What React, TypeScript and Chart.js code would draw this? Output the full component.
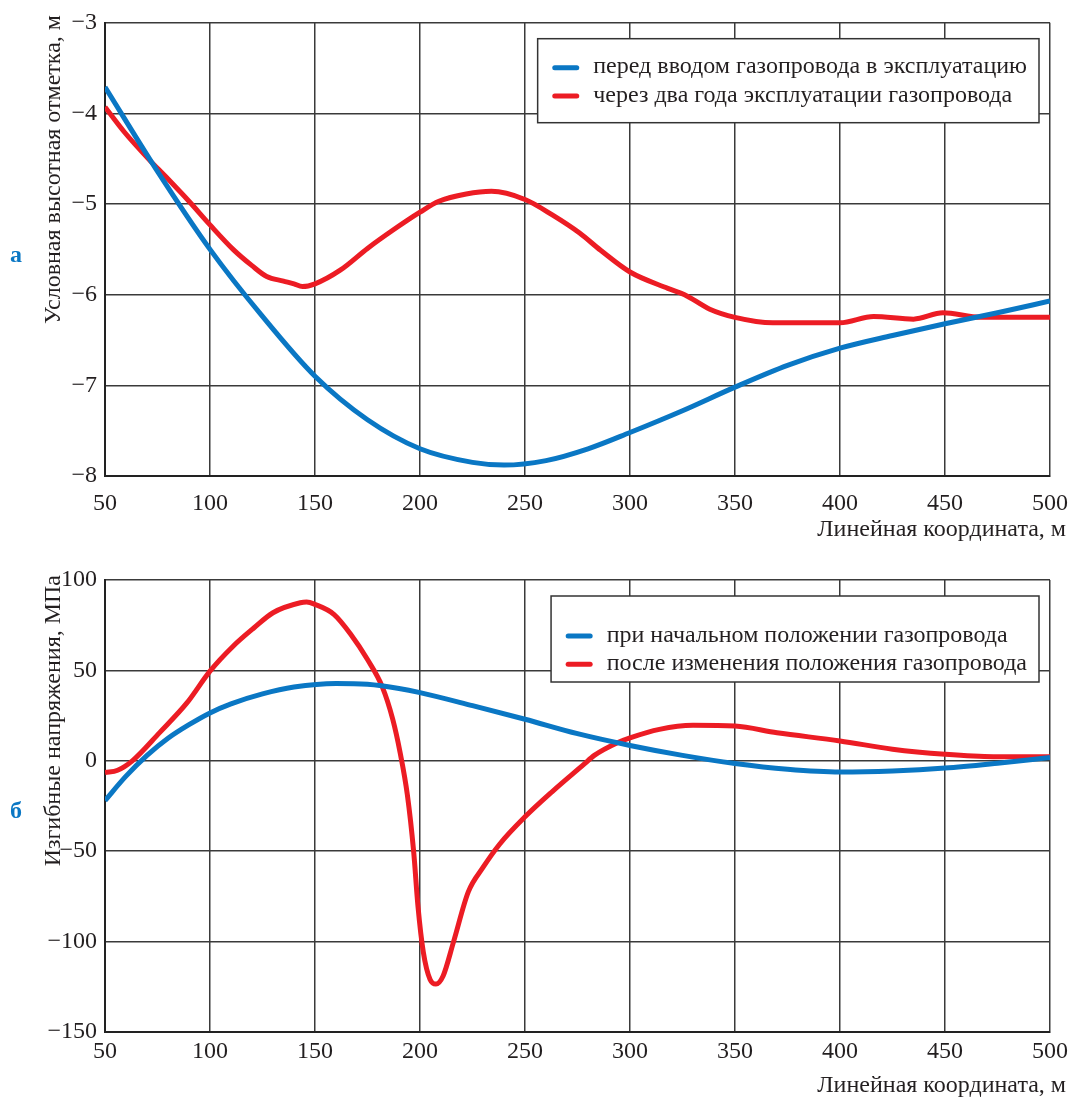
import React, { useEffect, useRef } from "react";
import { Chart, registerables } from "chart.js";

Chart.register(...registerables);

const FONT = '"Liberation Serif", "Times New Roman", serif';
const BLUE = "#0a77c4";
const RED = "#ec1c24";
const TEXT = "#231f20";

// ---------- shared ----------
const xTitle = "Линейная координата, м";
const xMin = 50;
const xMax = 500;
const xStep = 50;

// ---------- panel а ----------
const topLetter = "а";
const topYTitle = "Условная высотная отметка, м";
const topYMin = -8;
const topYMax = -3;
const topYStep = 1;
const topLabels = [
  "перед вводом газопровода в эксплуатацию",
  "через два года эксплуатации газопровода",
];
const topBeforeX = [50, 75, 100, 125, 150, 175, 200, 225, 240, 260, 280, 300, 325, 350, 375, 400, 425, 450, 475, 500];
const topBeforeY = [-3.71, -4.64, -5.5, -6.24, -6.9, -7.38, -7.7, -7.85, -7.88, -7.83, -7.7, -7.52, -7.28, -7.02, -6.78, -6.59, -6.45, -6.32, -6.2, -6.07];
const topAfterX = [50, 59, 71, 79, 90, 100, 111, 120, 127, 135, 140, 144, 150, 162, 175, 187, 200, 209, 222, 234, 250, 263, 276, 286, 300, 318, 326, 338, 350, 368, 400, 416, 435, 449, 467, 500];
const topAfterY = [-3.93, -4.2, -4.51, -4.7, -4.97, -5.23, -5.5, -5.68, -5.8, -5.85, -5.88, -5.91, -5.88, -5.73, -5.49, -5.29, -5.09, -4.97, -4.89, -4.86, -4.95, -5.12, -5.32, -5.51, -5.75, -5.93, -6.0, -6.16, -6.25, -6.31, -6.31, -6.24, -6.27, -6.2, -6.25, -6.25];

// ---------- panel б ----------
const botLetter = "б";
const botYTitle = "Изгибные напряжения, МПа";
const botYMin = -150;
const botYMax = 100;
const botYStep = 50;
const botLabels = [
  "при начальном положении газопровода",
  "после изменения положения газопровода",
];
const botInitX = [50, 60, 70, 80, 90, 100, 110, 125, 140, 160, 175, 190, 200, 225, 250, 275, 300, 325, 350, 375, 400, 425, 450, 475, 500];
const botInitY = [-22, -8.5, 3, 12.5, 20, 26.5, 31.5, 37, 40.8, 42.8, 42.3, 40, 37.7, 30.5, 23, 15, 8.5, 3, -1.5, -4.7, -6.2, -5.6, -4, -1.3, 1.8];
const botAfterX = [50, 56, 63, 76, 89, 100, 111, 121, 130, 143, 146, 150, 159, 167, 175, 182, 187, 190.5, 194, 197, 199, 201.6, 204.8, 207.6, 211, 216, 223, 230, 238, 250, 263, 278, 283, 294, 300, 314, 330, 350, 370, 400, 425, 450, 473, 500];
const botAfterY = [-6.5, -5.2, 0, 15.6, 32, 49.6, 63.4, 73.6, 81.9, 87.4, 87.8, 86.5, 81, 70, 56, 41, 23, 4.7, -19, -50.5, -80, -106, -121, -123.5, -119, -100, -72.5, -59, -46, -31, -17, -2, 3, 10, 12.7, 17.4, 19.6, 19.2, 15.5, 11, 6.4, 3.6, 2.3, 2.3];

function pts(xs: number[], ys: number[]) {
  return xs.map((x, i) => ({ x, y: ys[i] }));
}

const fmt = (v: number | string) => String(v).replace("-", "\u2212");

const TXT_SIZE = 24;

const decorPlugin = {
  id: "decor",
  afterDatasetsDraw(chart: any, _args: any, opts: any) {
    const ctx = chart.ctx as CanvasRenderingContext2D;
    const ca = chart.chartArea;
    ctx.save();
    const fs = TXT_SIZE;
    ctx.font = `${fs}px ${FONT}`;
    const ds = chart.data.datasets;
    const maxW = Math.max(...ds.map((d: any) => ctx.measureText(d.label).width));
    const padL = 14.6, sw = 27, gap = 14, padR = 12;
    const w = padL + sw + gap + maxW + padR;
    const right = ca.right - 11;
    const left = right - w;
    const top = ca.top + opts.legendTop;
    ctx.fillStyle = "#fff";
    ctx.fillRect(left, top, w, opts.legendHeight);
    ctx.strokeStyle = "#333";
    ctx.lineWidth = 1.5;
    ctx.strokeRect(left, top, w, opts.legendHeight);
    ds.forEach((d: any, i: number) => {
      const y = top + opts.firstRow + i * opts.rowGap;
      ctx.strokeStyle = d.borderColor;
      ctx.lineWidth = 5;
      ctx.lineCap = "round";
      ctx.beginPath();
      ctx.moveTo(left + padL + 2.5, y);
      ctx.lineTo(left + padL + sw - 2.5, y);
      ctx.stroke();
      ctx.fillStyle = TEXT;
      ctx.textAlign = "left";
      ctx.textBaseline = "alphabetic";
      ctx.fillText(d.label, left + padL + sw + gap, y + 0.23 * fs);
    });
    ctx.restore();
  },
  afterDraw(chart: any, _args: any, opts: any) {
    const ctx = chart.ctx as CanvasRenderingContext2D;
    const ca = chart.chartArea;
    ctx.save();
    ctx.fillStyle = TEXT;
    ctx.font = `${TXT_SIZE}px ${FONT}`;
    // x title
    ctx.textAlign = "right";
    ctx.textBaseline = "alphabetic";
    ctx.fillText(opts.xTitle, 1066, opts.xTitleBaseline);
    // y title
    ctx.save();
    ctx.translate(60, 15);
    ctx.rotate(-Math.PI / 2);
    ctx.textAlign = "right";
    ctx.fillText(opts.yTitle, 0, 0);
    ctx.restore();
    // panel letter
    ctx.fillStyle = BLUE;
    ctx.font = `bold 24px ${FONT}`;
    ctx.textAlign = "center";
    ctx.textBaseline = "middle";
    ctx.fillText(opts.letter, 16, (ca.top + ca.bottom) / 2 + opts.letterDy);
    ctx.restore();
  },
};

function makeConfig(p: any) {
  return {
    type: "line",
    data: {
      datasets: [
        {
          label: p.labels[0],
          data: pts(p.x1, p.y1),
          borderColor: BLUE,
          backgroundColor: BLUE,
          borderWidth: 5,
          pointRadius: 0,
          cubicInterpolationMode: "monotone",
          fill: false,
        },
        {
          label: p.labels[1],
          data: pts(p.x2, p.y2),
          borderColor: RED,
          backgroundColor: RED,
          borderWidth: 5,
          pointRadius: 0,
          cubicInterpolationMode: "monotone",
          fill: false,
        },
      ],
    },
    options: {
      responsive: false,
      animation: false,
      events: [],
      layout: { padding: { left: 0, right: 19, top: p.padTop, bottom: 0 } },
      plugins: {
        legend: { display: false },
        tooltip: { enabled: false },
        decor: {
          legendTop: p.legendTop,
          legendHeight: p.legendHeight,
          firstRow: p.firstRow,
          rowGap: p.rowGap,
          xTitle: xTitle,
          yTitle: p.yTitle,
          letter: p.letter,
          letterDy: p.letterDy,
          xTitleBaseline: p.xTitleBaseline,
        },
      },
      scales: {
        x: {
          type: "linear",
          min: xMin,
          max: xMax,
          ticks: {
            stepSize: xStep,
            color: TEXT,
            font: { size: 24, family: FONT },
            padding: p.xTickPad,
            maxRotation: 0,
            autoSkip: false,
            callback: (v: number) => fmt(v),
          },
          grid: { color: "#3a3a3a", lineWidth: 1.5, drawTicks: false },
          border: { color: "#222", width: 2 },
          afterFit: (s: any) => {
            s.height = p.xHeight;
            s.paddingLeft = 0;
            s.paddingRight = 0;
          },
        },
        y: {
          type: "linear",
          min: p.yMin,
          max: p.yMax,
          ticks: {
            stepSize: p.yStep,
            color: TEXT,
            font: { size: 24, family: FONT },
            padding: 8,
            callback: (v: number) => fmt(v),
          },
          grid: { color: "#3a3a3a", lineWidth: 1.5, drawTicks: false },
          border: { color: "#222", width: 2 },
          afterFit: (s: any) => {
            s.width = 105;
            s.paddingTop = 0;
            s.paddingBottom = 0;
          },
        },
      },
    },
    plugins: [decorPlugin],
  };
}

function Panel({ cfg, width, height, top }: any) {
  const ref = useRef<HTMLCanvasElement>(null);
  useEffect(() => {
    const chart = new Chart(ref.current as HTMLCanvasElement, makeConfig(cfg) as any);
    return () => chart.destroy();
  }, []);
  return (
    <canvas
      ref={ref}
      width={width}
      height={height}
      style={{ position: "absolute", left: 0, top, width, height, display: "block" }}
    />
  );
}

export default function App() {
  const topCfg = {
    labels: topLabels,
    x1: topBeforeX, y1: topBeforeY,
    x2: topAfterX, y2: topAfterY,
    yMin: topYMin, yMax: topYMax, yStep: topYStep,
    yTitle: topYTitle, letter: topLetter,
    padTop: 22.7, xHeight: 84, xTickPad: 13, xTitleBaseline: 536,
    legendTop: 16, legendHeight: 84, firstRow: 29, rowGap: 28.3, letterDy: 6,
  };
  const botCfg = {
    labels: botLabels,
    x1: botInitX, y1: botInitY,
    x2: botAfterX, y2: botAfterY,
    yMin: botYMin, yMax: botYMax, yStep: botYStep,
    yTitle: botYTitle, letter: botLetter,
    padTop: 20, xHeight: 65, xTickPad: 5, xTitleBaseline: 531.5,
    legendTop: 16, legendHeight: 86, firstRow: 40, rowGap: 28.3, letterDy: 6,
  };
  return (
    <div style={{ position: "absolute", left: 0, top: 0, width: 1069, height: 1097, background: "#fff", overflow: "hidden" }}>
      <Panel cfg={topCfg} width={1069} height={560} top={0} />
      <Panel cfg={botCfg} width={1069} height={537} top={560} />
    </div>
  );
}
